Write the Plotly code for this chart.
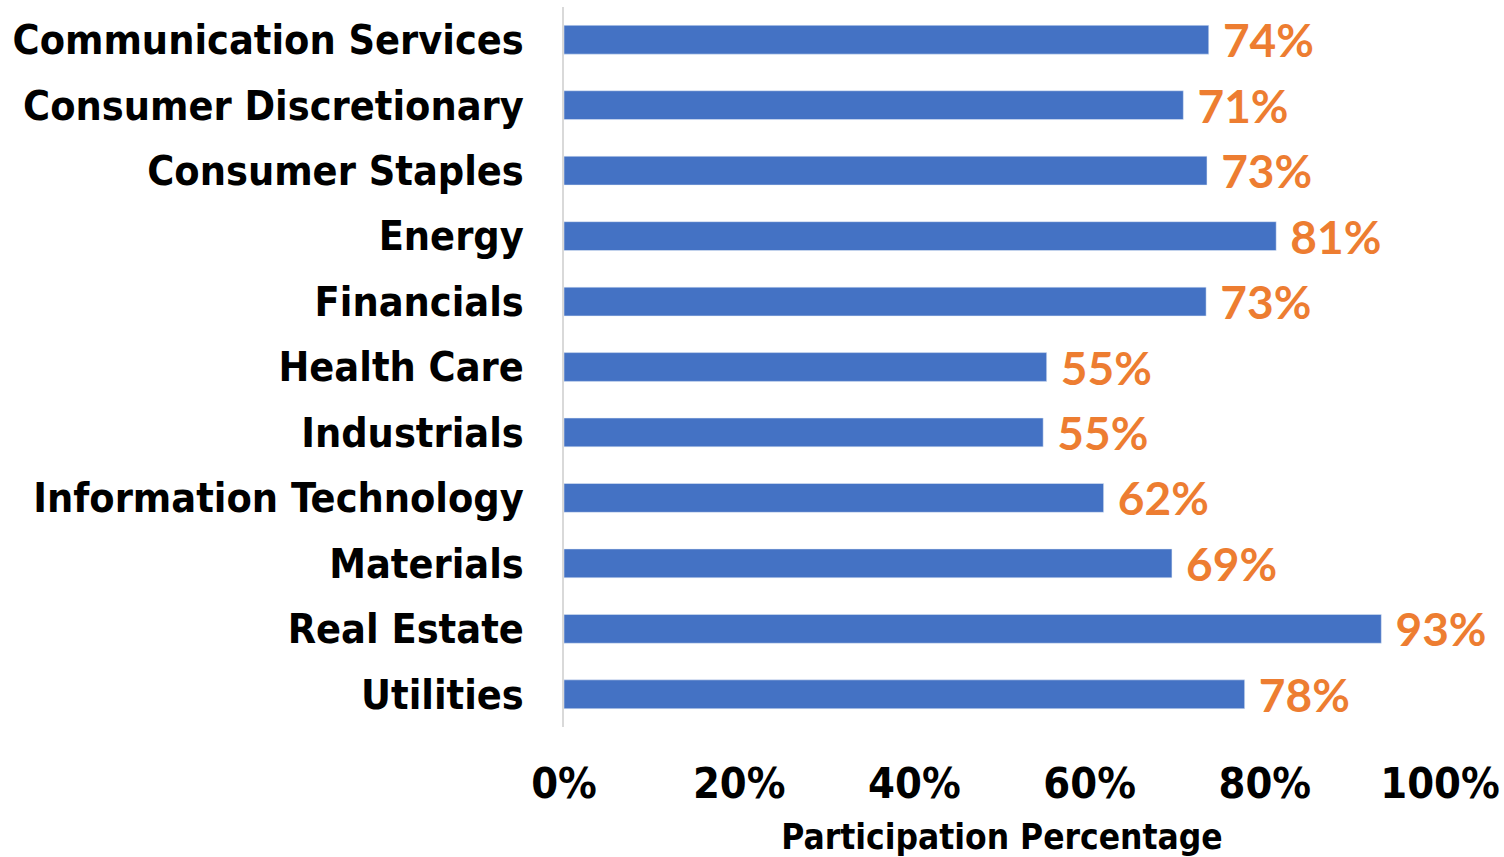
import plotly.graph_objects as go

sectors = [
    "Communication Services", "Consumer Discretionary", "Consumer Staples",
    "Energy", "Financials", "Health Care", "Industrials",
    "Information Technology", "Materials", "Real Estate", "Utilities",
]
participation = [73.6, 70.7, 73.4, 81.3, 73.3, 55.1, 54.7, 61.6, 69.4, 93.3, 77.7]
x_ticks = [0, 20, 40, 60, 80, 100]
x_tick_labels = [f"{t}%" for t in x_ticks]

AXIS_FONT = "DejaVu Sans Condensed, sans-serif"

fig = go.Figure(
    go.Bar(
        x=participation,
        y=sectors,
        orientation="h",
        marker=dict(color="#4472C4"),
        texttemplate=" %{x:.0f}%",
        textposition="outside",
        constraintext="none",
        cliponaxis=False,
        textfont=dict(family="Lato, sans-serif", size=46, color="#ED7D31", weight="bold"),
    )
)

fig.update_layout(
    width=1504,
    height=857,
    margin=dict(l=564, r=64, t=7, b=130),
    plot_bgcolor="white",
    paper_bgcolor="white",
    bargap=0.56,
    showlegend=False,
)
fig.update_xaxes(
    range=[0, 100],
    tickvals=x_ticks,
    ticktext=x_tick_labels,
    showgrid=False,
    zeroline=False,
    showline=False,
    automargin=False,
    ticklabelstandoff=27,
    tickfont=dict(family=AXIS_FONT, size=43, color="black", weight="bold"),
    title=dict(
        text="Participation Percentage",
        font=dict(family=AXIS_FONT, size=35, color="black", weight="bold"),
        standoff=18,
    ),
)
fig.update_yaxes(
    autorange="reversed",
    showgrid=False,
    zeroline=False,
    showline=True,
    linecolor="#D9D9D9",
    linewidth=2,
    automargin=False,
    ticklabelstandoff=30,
    tickfont=dict(family=AXIS_FONT, size=41, color="black", weight="bold"),
)

# drop the default page margin so the figure fills the window exactly
fig.write_html(
    "out.html",
    config={"displayModeBar": False},
    post_script="document.body.style.margin='0';",
)
